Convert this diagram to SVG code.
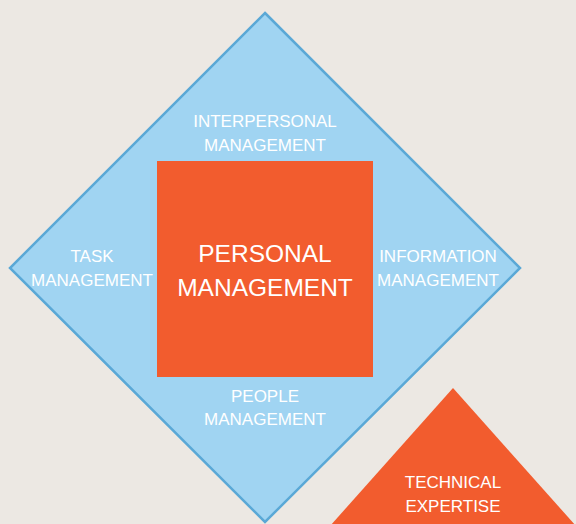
<svg xmlns="http://www.w3.org/2000/svg" width="576" height="524" viewBox="0 0 576 524">
  <style>
    .lbl { font-family: "Liberation Sans", Arial, sans-serif; fill: #ffffff; text-anchor: middle; }
    .sm { font-size: 17px; }
    .lg { font-size: 24.5px; }
  </style>
  <rect x="0" y="0" width="576" height="524" fill="#ECE8E3"/>

  <g id="skills-diamond">
    <polygon points="265,13 520,268 265,522 10,268" fill="#A0D4F2" stroke="#5AA8D6" stroke-width="2.5" stroke-linejoin="miter"/>
    <text class="lbl sm" x="265" y="127">INTERPERSONAL</text>
    <text class="lbl sm" x="265" y="151">MANAGEMENT</text>
    <text class="lbl sm" x="92" y="262">TASK</text>
    <text class="lbl sm" x="92" y="286">MANAGEMENT</text>
    <text class="lbl sm" x="438" y="262">INFORMATION</text>
    <text class="lbl sm" x="438" y="286">MANAGEMENT</text>
    <text class="lbl sm" x="265" y="402">PEOPLE</text>
    <text class="lbl sm" x="265" y="425">MANAGEMENT</text>
  </g>

  <g id="personal-management">
    <rect x="157" y="161" width="216" height="216" fill="#F25C2E"/>
    <text class="lbl lg" x="265" y="262">PERSONAL</text>
    <text class="lbl lg" x="265" y="296">MANAGEMENT</text>
  </g>

  <g id="technical-expertise">
    <polygon points="453,388 576,526 330,526" fill="#F25C2E"/>
    <text class="lbl sm" x="453" y="488">TECHNICAL</text>
    <text class="lbl sm" x="453" y="512">EXPERTISE</text>
  </g>

  <g id="connectors"/>
</svg>
